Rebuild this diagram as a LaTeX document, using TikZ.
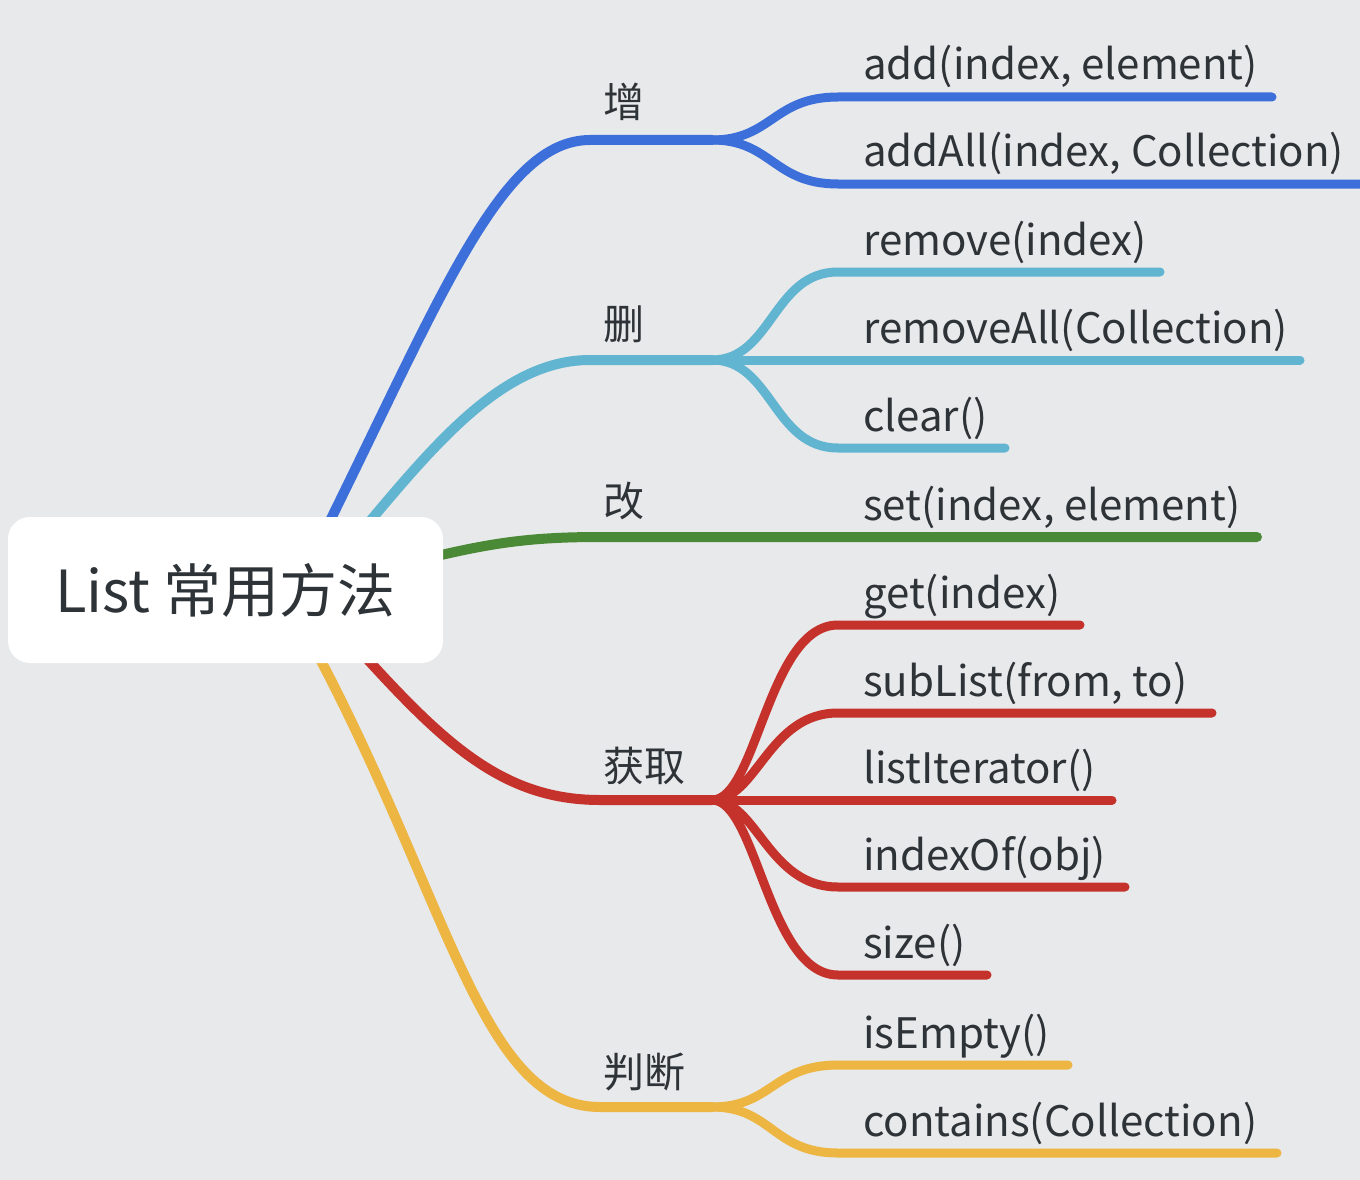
\documentclass[tikz,border=0pt]{standalone}
\usepackage{fontspec}
\setmainfont{Noto Sans CJK SC}
\pgfdeclarelayer{lines}
\pgfsetlayers{lines,main}
\definecolor{bgc}{HTML}{E8E9EB}
\definecolor{txt}{HTML}{2E3338}
\definecolor{cblue}{HTML}{3C6FD9}
\definecolor{ccyan}{HTML}{62B5D1}
\definecolor{cgreen}{HTML}{4A8A36}
\definecolor{cred}{HTML}{C5312B}
\definecolor{cyel}{HTML}{EDB542}
\begin{document}
\begin{tikzpicture}[x=1pt,y=-1pt,
  branch/.style={line width=10pt,line cap=round},
  twig/.style={line width=9pt,line cap=round},
  leaf/.style={anchor=base west,font=\fontsize{42}{42}\selectfont,text=txt,inner sep=0pt},
  cat/.style={anchor=base west,font=\fontsize{41}{41}\selectfont,text=txt,inner sep=0pt}]
\useasboundingbox (0,0) rectangle (1360,1180);
% root
\node[fill=white,rounded corners=22pt,minimum width=435pt,minimum height=146pt,inner sep=0pt,
  text=txt,font=\fontsize{58}{58}\selectfont] (root) at (225.5,590) {List 常用方法};
% start points under the root box
\coordinate (bS) at (318,545);
\coordinate (cS) at (350,545);
\coordinate (gS) at (400,565);
\coordinate (rS) at (350,640);
\coordinate (yS) at (310,640);
% category junctions
\coordinate (bK) at (590,140); \coordinate (bJ) at (712,140);
\coordinate (cK) at (590,360); \coordinate (cJ) at (712,360);
\coordinate (gK) at (600,537); \coordinate (gJ) at (712,537);
\coordinate (rK) at (600,800); \coordinate (rJ) at (712,800);
\coordinate (yK) at (600,1107); \coordinate (yJ) at (712,1107);
% leaf line coordinates
\coordinate (a1s) at (838,97);   \coordinate (a1e) at (1272,97);
\coordinate (a2s) at (838,184);  \coordinate (a2e) at (1375,184);
\coordinate (c1s) at (838,272);  \coordinate (c1e) at (1160,272);
\coordinate (c2e) at (1300,360);
\coordinate (c3s) at (838,448);  \coordinate (c3e) at (1005,448);
\coordinate (g1e) at (1257,537);
\coordinate (r1s) at (838,625);  \coordinate (r1e) at (1080,625);
\coordinate (r2s) at (838,713);  \coordinate (r2e) at (1212,713);
\coordinate (r3e) at (1112,800);
\coordinate (r4s) at (838,887);  \coordinate (r4e) at (1125,887);
\coordinate (r5s) at (838,975);  \coordinate (r5e) at (987,975);
\coordinate (y1s) at (838,1065); \coordinate (y1e) at (1068,1065);
\coordinate (y2s) at (838,1153); \coordinate (y2e) at (1277,1153);

\begin{pgfonlayer}{lines}
\fill[bgc] (0,0) rectangle (1360,1180);
% main branches
\draw[branch,cblue] (bS) .. controls (440,300) and (500,140) .. (bK) -- (bJ);
\draw[branch,ccyan] (cS) .. controls (430,450) and (500,360) .. (cK) -- (cJ);
\draw[branch,cgreen] (gS) .. controls (480,545) and (520,537) .. (gK) -- (gJ) -- (g1e);
\draw[branch,cred] (rS) .. controls (440,740) and (500,800) .. (rK) -- (rJ);
\draw[branch,cyel] (yS) .. controls (450,900) and (480,1107) .. (yK) -- (yJ);
% sub branches
\draw[twig,cblue] (bJ) .. controls +(60,0) and +(-65,0) .. (a1s) -- (a1e);
\draw[twig,cblue] (bJ) .. controls +(60,0) and +(-65,0) .. (a2s) -- (a2e);
\draw[twig,ccyan] (cJ) .. controls +(60,0) and +(-65,0) .. (c1s) -- (c1e);
\draw[twig,ccyan] (cJ) -- (c2e);
\draw[twig,ccyan] (cJ) .. controls +(60,0) and +(-65,0) .. (c3s) -- (c3e);
\draw[twig,cred] (rJ) .. controls +(45,0) and +(-70,0) .. (r1s) -- (r1e);
\draw[twig,cred] (rJ) .. controls +(45,0) and +(-70,0) .. (r2s) -- (r2e);
\draw[twig,cred] (rJ) -- (r3e);
\draw[twig,cred] (rJ) .. controls +(45,0) and +(-70,0) .. (r4s) -- (r4e);
\draw[twig,cred] (rJ) .. controls +(45,0) and +(-70,0) .. (r5s) -- (r5e);
\draw[twig,cyel] (yJ) .. controls +(60,0) and +(-65,0) .. (y1s) -- (y1e);
\draw[twig,cyel] (yJ) .. controls +(60,0) and +(-65,0) .. (y2s) -- (y2e);
\end{pgfonlayer}

% category labels
\node[cat] (tB) at (603,118) {增};
\node[cat] (tC) at (603,339) {删};
\node[cat] (tG) at (603,516) {改};
\node[cat] (tR) at (603,781) {获取};
\node[cat] (tY) at (603,1087) {判断};
% leaf labels
\node[leaf] (l1) at (863,80) {add(index, element)};
\node[leaf] (l2) at (863,167) {addAll(index, Collection)};
\node[leaf] (l3) at (863,255) {remove(index)};
\node[leaf] (l4) at (863,343) {removeAll(Collection)};
\node[leaf] (l5) at (863,431) {clear()};
\node[leaf] (l6) at (863,520) {set(index, element)};
\node[leaf] (l7) at (863,608) {get(index)};
\node[leaf] (l8) at (863,696) {subList(from, to)};
\node[leaf] (l9) at (863,783) {listIterator()};
\node[leaf] (l10) at (863,870) {indexOf(obj)};
\node[leaf] (l11) at (863,958) {size()};
\node[leaf] (l12) at (863,1048) {isEmpty()};
\node[leaf] (l13) at (863,1136) {contains(Collection)};
\end{tikzpicture}
\end{document}
